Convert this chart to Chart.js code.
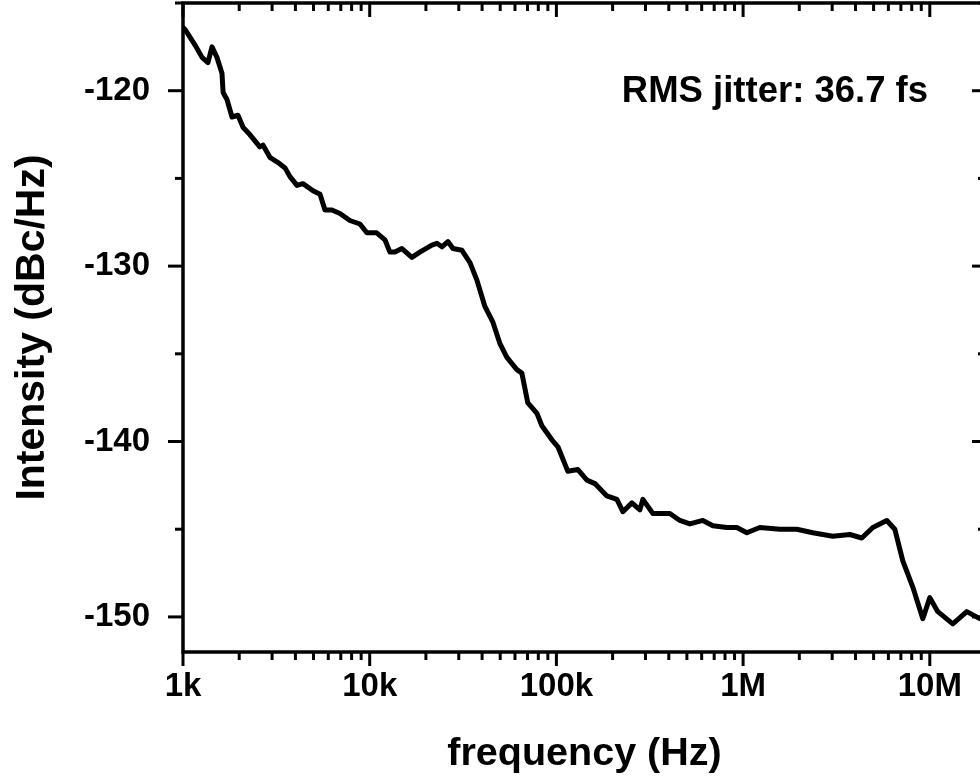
<!DOCTYPE html>
<html>
<head>
<meta charset="utf-8">
<script src="https://cdn.jsdelivr.net/npm/chart.js@4.4.0/dist/chart.umd.min.js"></script>
<style>
  html, body { margin: 0; padding: 0; background: #fff; overflow: hidden; }
  #wrap { width: 1000px; height: 778px; }
</style>
</head>
<body>
<div id="wrap"><canvas id="noiseChart"></canvas></div>
<script>
// phase noise trace
const freqHz = [
    1000, 1025, 1160, 1265, 1360, 1430, 1520, 1617, 1640, 1720,
    1830, 1970, 2100, 2280, 2580, 2680, 2920, 3230, 3520, 3740,
    4080, 4390, 4970, 5420, 5760, 6280, 6930, 7830, 8870, 9660,
    10900, 12070, 12830, 13650, 14880, 16830, 18570, 21530, 22900, 24370,
    26240, 27910, 31190, 34440, 37520, 41400, 45700, 49770, 54300, 61400,
    65300, 70300, 78700, 83600, 94600, 101900, 115200, 130400, 145700, 160800,
    186400, 210900, 227000, 253700, 280000, 290500, 328700, 405400, 458500, 518700,
    608800, 688700, 818500, 925800, 1047000, 1229000, 1573000, 1940000, 2363000, 3024000,
    3729000, 4324000, 4953000, 5885000, 6494000, 7169000, 8109000, 9174000, 10000000, 11040000,
    13280000, 15780000, 18520000, 20000000
];
const intensity = [
    -116.4, -116.5, -117.4, -118.1, -118.4, -117.5, -118.1, -119.0, -120.1, -120.5,
    -121.5, -121.4, -122.1, -122.5, -123.2, -123.1, -123.8, -124.1, -124.4, -124.9,
    -125.4, -125.3, -125.7, -125.9, -126.8, -126.8, -127.0, -127.4, -127.6, -128.1,
    -128.1, -128.5, -129.2, -129.2, -129.0, -129.5, -129.2, -128.8, -128.7, -128.9,
    -128.6, -129.0, -129.1, -129.8, -130.8, -132.3, -133.2, -134.4, -135.2, -135.9,
    -136.1, -137.8, -138.4, -139.1, -139.9, -140.3, -141.7, -141.6, -142.2, -142.4,
    -143.1, -143.3, -144.0, -143.5, -143.9, -143.3, -144.1, -144.1, -144.5, -144.7,
    -144.5, -144.8, -144.9, -144.9, -145.2, -144.9, -145.0, -145.0, -145.2, -145.4,
    -145.3, -145.5, -144.9, -144.5, -145.0, -146.8, -148.3, -150.1, -148.9, -149.7,
    -150.4, -149.7, -150.1, -150.2
];

const xTickValues = [1e3, 1e4, 1e5, 1e6, 1e7];
const xTickLabels = ['1k', '10k', '100k', '1M', '10M'];
const yTickValues = [-120, -130, -140, -150];
const yMinorValues = [-115, -125, -135, -145];

const jitterNote = 'RMS jitter: 36.7 fs';
const noteFreq = 2.24e5;
const noteLevel = -120.05;

const FONT = "'Liberation Sans', Arial, sans-serif";

// box frame with log minor ticks (out on left/bottom, in on top/right)
const frameTicks = {
    id: 'frameTicks',
    afterDatasetsDraw(chart) {
        const { ctx, chartArea: a, scales: { x, y } } = chart;
        ctx.save();
        ctx.strokeStyle = '#000';
        ctx.lineWidth = 3.5;
        ctx.strokeRect(a.left, a.top, a.right - a.left, a.bottom - a.top);

        ctx.lineWidth = 3;
        const tick = (x1, y1, x2, y2) => {
            ctx.beginPath();
            ctx.moveTo(x1, y1);
            ctx.lineTo(x2, y2);
            ctx.stroke();
        };
        for (let d = x.min; d <= x.max; d *= 10) {
            for (let m = 1; m <= 9; m++) {
                const v = d * m;
                if (v > x.max) break;
                const px = x.getPixelForValue(v);
                const len = m === 1 ? 14 : 8;
                tick(px, a.bottom, px, a.bottom + len);
                tick(px, a.top, px, a.top + len);
            }
        }
        yTickValues.forEach(v => {
            const py = y.getPixelForValue(v);
            tick(a.left - 15, py, a.left, py);
            tick(a.right - 14, py, a.right, py);
        });
        yMinorValues.forEach(v => {
            const py = y.getPixelForValue(v);
            tick(a.left - 8, py, a.left, py);
            tick(a.right - 8, py, a.right, py);
        });

        ctx.fillStyle = '#000';
        ctx.font = 'bold 36.5px ' + FONT;
        ctx.textAlign = 'left';
        ctx.textBaseline = 'middle';
        ctx.fillText(jitterNote, x.getPixelForValue(noteFreq), y.getPixelForValue(noteLevel));
        ctx.restore();
    }
};

const ctx = document.getElementById('noiseChart').getContext('2d');
const chart = new Chart(ctx, {
    type: 'line',
    data: {
        datasets: [{
            data: freqHz.map((f, i) => ({ x: f, y: intensity[i] })),
            borderColor: '#000',
            borderWidth: 5,
            borderJoinStyle: 'round',
            borderCapStyle: 'round',
            pointRadius: 0,
            tension: 0,
            fill: false,
        }]
    },
    options: {
        animation: false,
        responsive: true,
        maintainAspectRatio: false,
        layout: { padding: { left: 0, top: 3, right: 14, bottom: 0 } },
        plugins: { legend: { display: false }, tooltip: { enabled: false } },
        scales: {
            x: {
                type: 'logarithmic',
                min: 1e3,
                max: 2e7,
                grid: { display: false, drawTicks: false },
                border: { display: false },
                afterBuildTicks: s => { s.ticks = xTickValues.map(v => ({ value: v })); },
                afterFit: s => {
                    s.height = 126;
                    s.paddingLeft = 0;
                    s.paddingRight = 0;
                },
                ticks: {
                    autoSkip: false,
                    maxRotation: 0,
                    padding: 15,
                    color: '#000',
                    font: { family: FONT, size: 33, weight: 'bold' },
                    callback: (v, i) => xTickLabels[i],
                },
                title: {
                    display: true,
                    text: 'frequency (Hz)',
                    color: '#000',
                    font: { family: FONT, size: 39.5, weight: 'bold' },
                    padding: { top: 0, bottom: 0 },
                },
            },
            y: {
                min: -152,
                max: -115,
                grid: { display: false, drawTicks: false },
                border: { display: false },
                afterBuildTicks: s => { s.ticks = yTickValues.map(v => ({ value: v })); },
                afterFit: s => {
                    s.width = 183;
                    s.paddingTop = 0;
                    s.paddingBottom = 0;
                },
                ticks: {
                    padding: 33,
                    color: '#000',
                    font: { family: FONT, size: 33, weight: 'bold' },
                },
                title: {
                    display: true,
                    text: 'Intensity (dBc/Hz)',
                    color: '#000',
                    font: { family: FONT, size: 41, weight: 'bold' },
                    padding: { top: 8, bottom: 0 },
                },
            },
        },
    },
    plugins: [frameTicks],
});
</script>
</body>
</html>
